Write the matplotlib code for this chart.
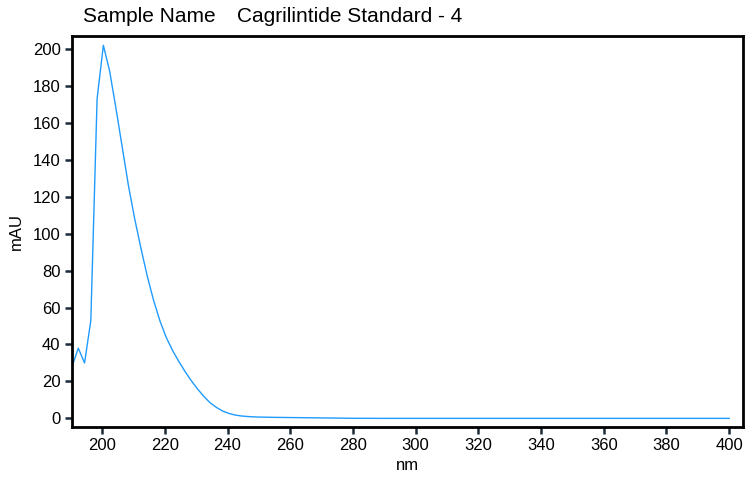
import matplotlib
matplotlib.use("Agg")
import matplotlib.pyplot as plt

plt.rcParams['font.family'] = ['Liberation Sans', 'DejaVu Sans']

wavelength_nm = [190.4, 192.4, 194.4, 196.4, 198.4, 200.4, 202.4, 204.4, 206.4, 208.4, 210.4,
                 212.4, 214.4, 216.4, 218.4, 220.4, 222.4, 224.4, 226.4, 228.4, 230.4, 232.4,
                 234.4, 236.4, 238.4, 240.4, 242.4, 244.4, 246.4, 248.4, 250.4, 255, 260, 265,
                 270, 275, 280, 290, 300, 320, 340, 360, 380, 400]
absorbance_mAU = [28, 38, 30, 53, 173, 202, 188, 168, 147, 126, 108, 92, 77, 64, 53,
                  44, 37, 31, 25.5, 20.5, 16, 12, 8.5, 6, 4, 2.7, 1.8, 1.3, 1.0, 0.8,
                  0.7, 0.55, 0.45, 0.35, 0.25, 0.15, 0.05, 0.0, 0.0, 0.0, 0.0, 0.0, 0.0, 0.0]
x_ticks = list(range(200, 401, 20))
y_ticks = list(range(0, 201, 20))
title_label = "Sample Name"
title_value = "Cagrilintide Standard - 4"

W, H = 747, 479
fig = plt.figure(figsize=(W / 100, H / 100), dpi=100)
left, right, top, bottom = 71.7, 743, 35.5, 426.5
ax = fig.add_axes([left / W, 1 - bottom / H, (right - left) / W, (bottom - top) / H])

ax.plot(wavelength_nm, absorbance_mAU, color='#1f9bff', lw=1.0)
ax.set_xlim(190.3, 404.4)
ax.set_ylim(-4.4, 207.3)
ax.set_xticks(x_ticks)
ax.set_yticks(y_ticks)
for s in ax.spines.values():
    s.set_linewidth(2)
    s.set_color('black')
ax.tick_params(direction='out', length=5, width=1.8, color='#1c2b3a', labelsize=12, pad=3)
ax.set_xlabel('nm', fontsize=12, labelpad=4)
ax.set_ylabel('mAU', fontsize=12, labelpad=6)
fig.text(83 / W, 1 - 17 / H, title_label, fontsize=15, ha='left', va='center')
fig.text(237 / W, 1 - 17 / H, title_value, fontsize=15, ha='left', va='center')

fig.savefig('out.png', dpi=100, facecolor='white')
